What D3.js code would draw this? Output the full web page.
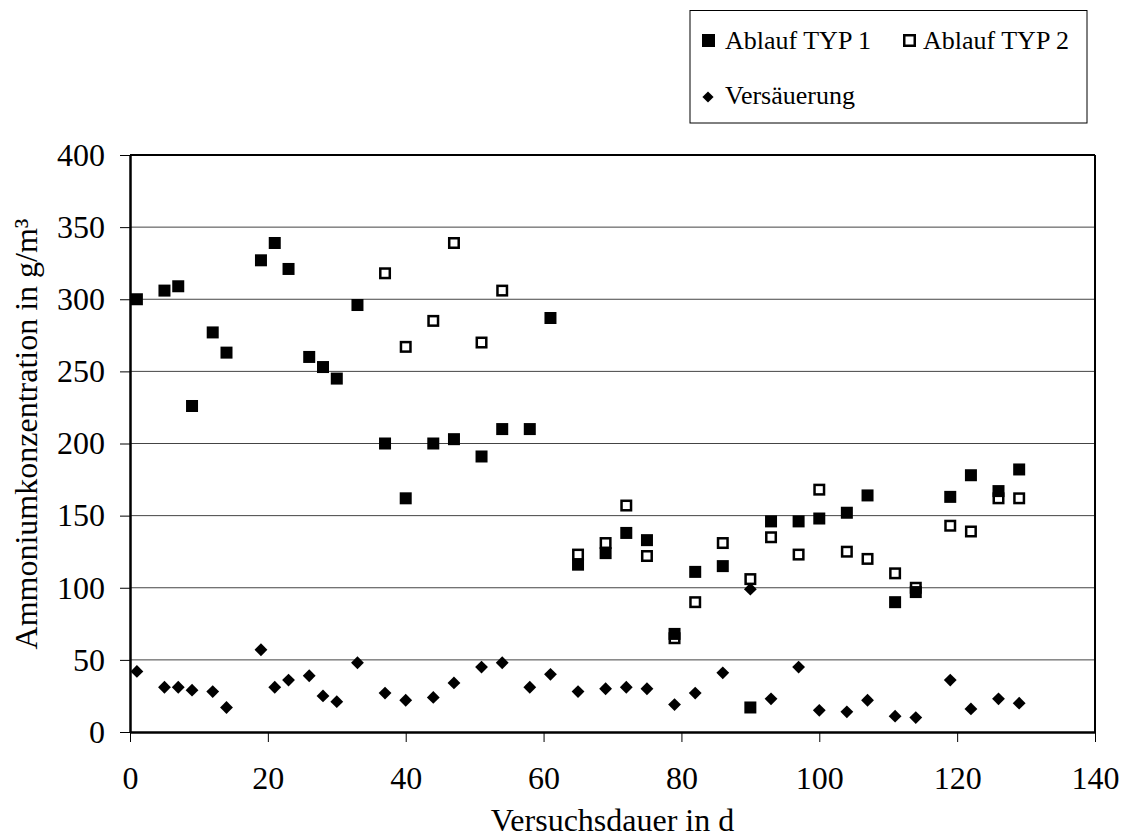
<!DOCTYPE html>
<html><head><meta charset="utf-8">
<script src="https://cdn.jsdelivr.net/npm/d3@7"></script>
<style>body{margin:0;background:#fff}svg{display:block}text{font-family:"Liberation Serif","Times New Roman",serif;fill:#000}</style>
</head><body><svg id="c" width="1130" height="840"></svg>
<script>
const typ1Days = [1,5,7,9,12,14,19,21,23,26,28,30,33,37,40,44,47,51,54,58,61,65,69,72,75,79,82,86,90,93,97,100,104,107,111,114,119,122,126,129];
const typ1Vals = [300,306,309,226,277,263,327,339,321,260,253,245,296,200,162,200,203,191,210,210,287,116,124,138,133,68,111,115,17,146,146,148,152,164,90,97,163,178,167,182];
const typ2Days = [37,40,44,47,51,54,65,69,72,75,79,82,86,90,93,97,100,104,107,111,114,119,122,126,129];
const typ2Vals = [318,267,285,339,270,306,123,131,157,122,65,90,131,106,135,123,168,125,120,110,100,143,139,162,162];
const versDays = [1,5,7,9,12,14,19,21,23,26,28,30,33,37,40,44,47,51,54,58,61,65,69,72,75,79,82,86,90,93,97,100,104,107,111,114,119,122,126,129];
const versVals = [42,31,31,29,28,17,57,31,36,39,25,21,48,27,22,24,34,45,48,31,40,28,30,31,30,19,27,41,99,23,45,15,14,22,11,10,36,16,23,20];
const xTicks = [0,20,40,60,80,100,120,140];
const yTicks = [0,50,100,150,200,250,300,350,400];
const seriesNames = ["Ablauf TYP 1","Ablauf TYP 2","Versäuerung"];
const xTitle = "Versuchsdauer in d";
const yTitle = "Ammoniumkonzentration in g/m³";

const svg = d3.select("#c");
const L=130,R=1095,T=155,B=732;
const FS=32;
const x = d3.scaleLinear().domain([0,140]).range([L,R]);
const y = d3.scaleLinear().domain([0,400]).range([B,T]);

// gridlines
svg.append("g").selectAll("line").data(yTicks.filter(v=>v>0&&v<400)).join("line")
  .attr("x1",L).attr("x2",R).attr("y1",d=>y(d)).attr("y2",d=>y(d))
  .attr("stroke","#444").attr("stroke-width",1);

// frame
svg.append("line").attr("x1",L).attr("x2",R).attr("y1",T).attr("y2",T).attr("stroke","#000").attr("stroke-width",2);
svg.append("line").attr("x1",R).attr("x2",R).attr("y1",T).attr("y2",B).attr("stroke","#000").attr("stroke-width",2);

// axes
const xAxis = svg.append("g").attr("transform",`translate(0,${B})`)
  .call(d3.axisBottom(x).tickValues(xTicks).tickSize(10).tickPadding(24).tickSizeOuter(0));
const yAxis = svg.append("g").attr("transform",`translate(${L},0)`)
  .call(d3.axisLeft(y).tickValues(yTicks).tickSize(10).tickPadding(15).tickSizeOuter(0));
[xAxis,yAxis].forEach(g=>{
  g.attr("font-family",null);
  g.select(".domain").attr("stroke","#000").attr("stroke-width",2.5);
  g.selectAll(".tick line").attr("stroke","#000").attr("stroke-width",1);
  g.selectAll(".tick text").attr("font-size",FS).attr("fill","#000");
});
xAxis.selectAll(".tick text").attr("dy","0.71em");

// markers
const sq=12;
svg.append("g").selectAll("rect").data(typ2Days.map((d,i)=>[d,typ2Vals[i]])).join("rect")
  .attr("x",d=>x(d[0])-sq/2+1.25).attr("y",d=>y(d[1])-sq/2+1.25).attr("width",sq-2.5).attr("height",sq-2.5)
  .attr("fill","#fff").attr("stroke","#000").attr("stroke-width",2.5);
svg.append("g").selectAll("rect").data(typ1Days.map((d,i)=>[d,typ1Vals[i]])).join("rect")
  .attr("x",d=>x(d[0])-sq/2).attr("y",d=>y(d[1])-sq/2).attr("width",sq).attr("height",sq).attr("fill","#000");
const dia = d3.symbol().type(d3.symbolDiamond2).size(105);
svg.append("g").selectAll("path").data(versDays.map((d,i)=>[d,versVals[i]])).join("path")
  .attr("d",dia).attr("transform",d=>`translate(${x(d[0])},${y(d[1])})`).attr("fill","#000");

// titles
svg.append("text").attr("x",(L+R)/2).attr("y",831).attr("text-anchor","middle").attr("font-size",FS).text(xTitle);
svg.append("text").attr("transform","translate(37,434) rotate(-90)").attr("text-anchor","middle").attr("font-size",FS).text(yTitle);

// legend
const lg = svg.append("g");
lg.append("rect").attr("x",690).attr("y",10.5).attr("width",397).attr("height",112.5).attr("fill","#fff").attr("stroke","#000").attr("stroke-width",1);
lg.append("rect").attr("x",702).attr("y",34).attr("width",13).attr("height",13).attr("fill","#000");
lg.append("text").attr("x",725).attr("y",49).attr("font-size",26).text(seriesNames[0]);
lg.append("rect").attr("x",904.25).attr("y",35.25).attr("width",10.5).attr("height",10.5).attr("fill","#fff").attr("stroke","#000").attr("stroke-width",2.5);
lg.append("text").attr("x",923).attr("y",49).attr("font-size",26).text(seriesNames[1]);
lg.append("path").attr("d",d3.symbol().type(d3.symbolDiamond2).size(80)()).attr("transform","translate(708,97)").attr("fill","#000");
lg.append("text").attr("x",725).attr("y",104).attr("font-size",26).text(seriesNames[2]);
</script></body></html>
